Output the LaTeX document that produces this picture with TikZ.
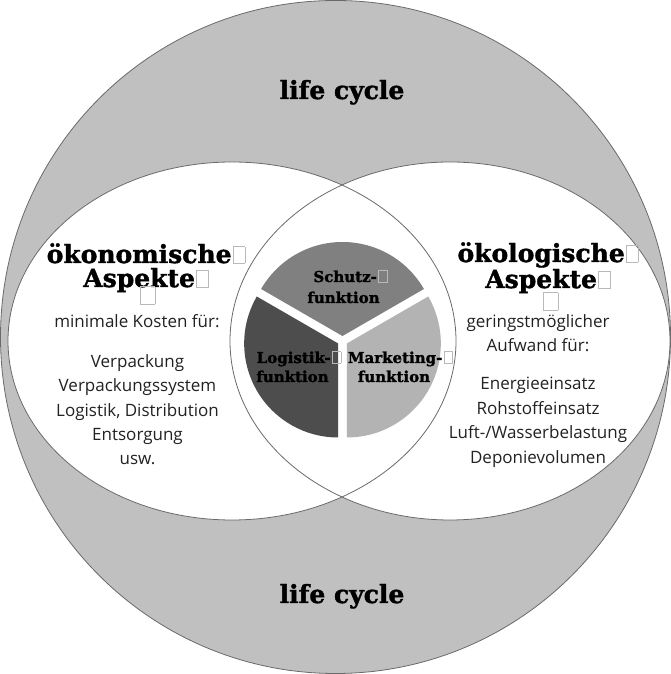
\documentclass[tikz,border=0pt]{standalone}
\usepackage{fontspec}
\setmainfont{Open Sans}
\newfontfamily\slabfont{DejaVu Serif}[BoldFeatures={FakeBold=1.6}]
\definecolor{ringgray}{HTML}{C0C0C0}
\definecolor{edgegray}{HTML}{6A6A6A}
\definecolor{schutzc}{HTML}{808080}
\definecolor{logc}{HTML}{4D4D4D}
\definecolor{markc}{HTML}{B3B3B3}
\definecolor{bodytext}{HTML}{222222}
\newcommand{\tofubox}[2]{\kern1.5pt{\color{gray!55}\setlength{\fboxrule}{0.6pt}\setlength{\fboxsep}{0pt}\fbox{\rule{0pt}{#2}\hspace{#1}}}}
\tikzset{
  edge/.style={draw=edgegray, line width=0.8pt},
  title/.style={inner sep=0pt, anchor=base, font=\slabfont\bfseries\fontsize{25}{30}\selectfont},
  pielabel/.style={inner sep=0pt, anchor=base, font=\slabfont\bfseries\fontsize{15}{18}\selectfont},
  body/.style={inner sep=0pt, anchor=base, text=bodytext, font=\fontsize{17}{20}\selectfont},
}
\begin{document}
\begin{tikzpicture}[x=1pt,y=1pt]
\useasboundingbox (0,0) rectangle (671,674);
% outer life cycle disc
\path[fill=ringgray, edge] (335.5,337) ellipse [x radius=335pt, y radius=336.5pt];
% two aspect ellipses
\fill[white] (232,333) ellipse [x radius=224pt, y radius=179pt];
\fill[white] (450,333) ellipse [x radius=220pt, y radius=179pt];
\draw[edge] (232,333) ellipse [x radius=224pt, y radius=179pt];
\draw[edge] (450,333) ellipse [x radius=220pt, y radius=179pt];
% pie
\coordinate (pc) at (342.5,333);
\fill[schutzc] ([shift={(90:5)}]pc) -- ++(30:94) arc[start angle=30, end angle=150, radius=94pt] -- cycle;
\fill[logc] ([shift={(210:5)}]pc) -- ++(150:94) arc[start angle=150, end angle=270, radius=94pt] -- cycle;
\fill[markc] ([shift={(330:5)}]pc) -- ++(270:94) arc[start angle=270, end angle=390, radius=94pt] -- cycle;
% life cycle labels
\node[title] (lctop) at (342,575) {life cycle};
\node[title] (lcbot) at (342,71) {life cycle};
% left block
\node[title] (oek1) at (146,411) {ökonomische\tofubox{11pt}{16pt}};
\node[title] (oek2) at (146,387) {Aspekte\tofubox{11pt}{16pt}};
\node[body] (oek3) at (147,370) {\tofubox{14pt}{17pt}};
\node[body] (oek4) at (137,346) {minimale Kosten für:};
\node[body] (oek5) at (137.5,306) {Verpackung};
\node[body] (oek6) at (137.5,282) {Verpackungssystem};
\node[body] (oek7) at (137.5,257) {Logistik, Distribution};
\node[body] (oek8) at (137.5,233) {Entsorgung};
\node[body] (oek9) at (137.5,209) {usw.};
% right block
\node[title] (eco1) at (548,412) {ökologische\tofubox{11pt}{16pt}};
\node[title] (eco2) at (548,386) {Aspekte\tofubox{11pt}{16pt}};
\node[body] (eco3) at (550,364) {\tofubox{14pt}{17pt}};
\node[body] (eco4) at (538,346) {geringstmöglicher};
\node[body] (eco5) at (538,322) {Aufwand für:};
\node[body] (eco6) at (538,284) {Energieeinsatz};
\node[body] (eco7) at (538,259) {Rohstoffeinsatz};
\node[body] (eco8) at (538,235) {Luft-/Wasserbelastung};
\node[body] (eco9) at (538,210) {Deponievolumen};
% pie labels
\node[pielabel] (sch1) at (350.5,392) {Schutz-\tofubox{8pt}{11pt}};
\node[pielabel] (sch2) at (343.5,371) {funktion};
\node[pielabel] (log1) at (299,311) {Logistik-\tofubox{8pt}{11pt}};
\node[pielabel] (log2) at (292.5,292) {funktion};
\node[pielabel] (mar1) at (400.5,311) {Marketing-\tofubox{8pt}{11pt}};
\node[pielabel] (mar2) at (394,292) {funktion};
\end{tikzpicture}
\end{document}
